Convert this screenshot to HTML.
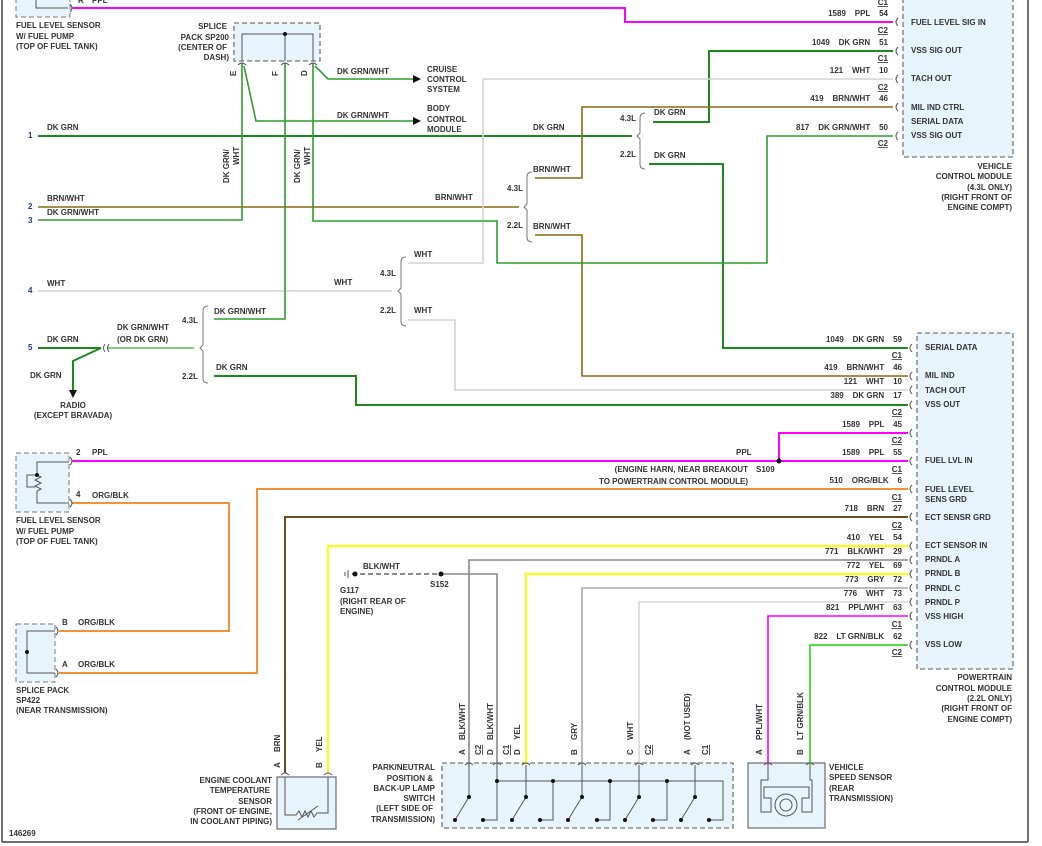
<!DOCTYPE html>
<html><head><meta charset="utf-8"><style>
html,body{margin:0;padding:0;background:#fff;}
svg{display:block;}
text{font-family:"Liberation Sans",sans-serif;font-size:8px;font-weight:bold;fill:#333;}
.n{fill:#1a3a8a;}
.u{text-decoration:underline;}
</style></head><body>
<svg width="1042" height="846" viewBox="0 0 1042 846" xmlns="http://www.w3.org/2000/svg">
<rect x="0" y="0" width="1042" height="846" fill="#fff"/>
<!-- frame -->
<line x1="2" y1="0" x2="2" y2="842" stroke="#444" stroke-width="1.5"/>
<line x1="1028" y1="0" x2="1028" y2="842" stroke="#444" stroke-width="1.5"/>
<line x1="2" y1="842" x2="1028" y2="842" stroke="#444" stroke-width="1.5"/>

<!-- boxes -->
<rect x="16" y="-5" width="54" height="22" fill="#e8f4fb" stroke="#777" stroke-dasharray="5,3"/>
<path d="M36,-2 V8 H68" fill="none" stroke="#555"/>
<rect x="234" y="23" width="86" height="38" fill="#e8f4fb" stroke="#777" stroke-dasharray="5,3" stroke-width="1.3"/>
<path d="M242,61 V34 H313 V61 M285,34 V61" fill="none" stroke="#555"/>
<circle cx="285" cy="34" r="2" fill="#111"/>
<rect x="903" y="-5" width="110" height="162" fill="#e8f4fb" stroke="#777" stroke-dasharray="5,3" stroke-width="1.3"/>
<rect x="917" y="333" width="96" height="336" fill="#e8f4fb" stroke="#777" stroke-dasharray="5,3" stroke-width="1.3"/>
<rect x="16" y="453" width="53" height="59" fill="#e8f4fb" stroke="#777" stroke-dasharray="5,3"/>
<path d="M69,462 H37 V475 M37,475 l4,2 -6,3 6,3 -6,3 6,3 -4,2 V503 H69 M37,475 H27 V487 H35" fill="none" stroke="#555"/>
<circle cx="37" cy="475" r="2" fill="#111"/>
<rect x="16" y="624" width="39" height="58" fill="#e8f4fb" stroke="#777" stroke-dasharray="5,3"/>
<path d="M55,631 H27 V673 H55" fill="none" stroke="#555"/>
<circle cx="27" cy="652" r="2" fill="#111"/>
<rect x="277" y="777" width="59" height="52" fill="#e8f4fb" stroke="#777" stroke-width="1.3"/>
<path d="M285,777 V815 H296 l3,-4 3,6 3,-6 3,6 3,-6 3,6 3,-4 H328 V777 M298,820 L318,806" fill="none" stroke="#555"/>
<rect x="442" y="763" width="291" height="65" fill="#e8f4fb" stroke="#777" stroke-dasharray="5,3" stroke-width="1.3"/>
<g stroke="#555" fill="none">
<path d="M497,765 V820 H483 M497,781 H723 V820 H709 M553,781 V820 H540 M610,781 V820 H597 M667,781 V820 H653"/>
<path d="M469,765 V797 L455,820 M526,765 V797 L512,820 M582,765 V797 L568,820 M639,765 V797 L625,820 M695,765 V797 L681,820"/>
</g>
<g fill="#111">
<circle cx="497" cy="781" r="2"/><circle cx="553" cy="781" r="2"/><circle cx="610" cy="781" r="2"/><circle cx="667" cy="781" r="2"/>
<circle cx="469" cy="797" r="2"/><circle cx="526" cy="797" r="2"/><circle cx="582" cy="797" r="2"/><circle cx="639" cy="797" r="2"/><circle cx="695" cy="797" r="2"/>
<circle cx="455" cy="820" r="2"/><circle cx="512" cy="820" r="2"/><circle cx="568" cy="820" r="2"/><circle cx="625" cy="820" r="2"/><circle cx="681" cy="820" r="2"/>
<circle cx="483" cy="820" r="2"/><circle cx="540" cy="820" r="2"/><circle cx="597" cy="820" r="2"/><circle cx="653" cy="820" r="2"/><circle cx="709" cy="820" r="2"/>
</g>
<rect x="748" y="763" width="77" height="65" fill="#e8f4fb" stroke="#777" stroke-width="1.3"/>
<path d="M768,765 V780 H761 V812 H771 V798 H764 V787 H809 V798 H802 V812 H812 V780 H810 V765" fill="none" stroke="#555"/>
<circle cx="786" cy="805" r="11" fill="none" stroke="#555"/><circle cx="786" cy="805" r="6" fill="none" stroke="#555"/>

<!-- wires -->
<g fill="none" stroke-linejoin="miter">
<path d="M72,8 H625 V22 H893" stroke="#ff00ff" stroke-width="2"/>
<path d="M38,136 H632" stroke="#1a8a1a" stroke-width="2"/>
<path d="M653,122 H709 V51 H893" stroke="#1a8a1a" stroke-width="2"/>
<path d="M649,164 H723 V348 H908" stroke="#1a8a1a" stroke-width="2"/>
<path d="M38,207 H519" stroke="#8b6914" stroke-width="1.6"/>
<path d="M535,178 H582 V107 H893" stroke="#8b6914" stroke-width="1.6"/>
<path d="M535,235 H582 V376 H908" stroke="#8b6914" stroke-width="1.6"/>
<path d="M38,291 H392" stroke="#d4d4d4" stroke-width="1.6"/>
<path d="M408,263 H483 V79 H893" stroke="#d4d4d4" stroke-width="1.6"/>
<path d="M408,320 H455 V390 H908" stroke="#d4d4d4" stroke-width="1.6"/>
<path d="M242,63 V220 H38" stroke="#2e9e2e" stroke-width="1.6"/>
<path d="M244,66 L256,121 H413" stroke="#2e9e2e" stroke-width="1.6"/>
<path d="M315,66 L328,79 H413" stroke="#2e9e2e" stroke-width="1.6"/>
<path d="M313,63 V221 H497 V263 H767 V136 H893" stroke="#2e9e2e" stroke-width="1.6"/>
<path d="M285,63 V319 H214" stroke="#2e9e2e" stroke-width="1.6"/>
<path d="M38,348 H101 L73,361 V390" stroke="#1a8a1a" stroke-width="2"/>
<path d="M107,348 H194" stroke="#5cb85c" stroke-width="1.6"/>
<path d="M214,376 H356 V405 H908" stroke="#1a8a1a" stroke-width="2"/>
<path d="M72,461 H908" stroke="#ff00ff" stroke-width="2"/>
<path d="M779,461 V433 H908" stroke="#ff00ff" stroke-width="2"/>
<path d="M72,503 H229 V631 H59" stroke="#f39237" stroke-width="2"/>
<path d="M59,673 H257 V489 H908" stroke="#f39237" stroke-width="2"/>
<path d="M285,773 V517 H908" stroke="#6b4c1e" stroke-width="2"/>
<path d="M328,773 V546 H908" stroke="#ffff00" stroke-width="2"/>
<path d="M469,765 V560 H908" stroke="#888" stroke-width="1.6"/>
<path d="M441,574 H497 V765" stroke="#888" stroke-width="1.6"/>
<path d="M352,574 H441" stroke="#666" stroke-width="1.4" stroke-dasharray="5,3"/>
<path d="M526,765 V574 H908" stroke="#ffff00" stroke-width="2"/>
<path d="M582,765 V588 H908" stroke="#aaa" stroke-width="1.6"/>
<path d="M639,765 V602 H908" stroke="#d8d8d8" stroke-width="1.6"/>
<path d="M768,765 V616 H908" stroke="#ff00ff" stroke-width="1.6"/>
<path d="M810,765 V645 H908" stroke="#55dd44" stroke-width="2"/>
<!-- brackets -->
<g stroke="#777" stroke-width="1">
<path d="M645,113 Q640,113 640,118 V133 L637,136 L640,139 V164 Q640,169 645,169"/>
<path d="M532,172 Q527,172 527,177 V204 L524,207 L527,210 V237 Q527,242 532,242"/>
<path d="M406,257 Q401,257 401,262 V288 L398,291 L401,294 V321 Q401,326 406,326"/>
<path d="M208,306 Q203,306 203,311 V345 L200,348 L203,351 V378 Q203,383 208,383"/>
</g>
<!-- connector marks -->
<g stroke="#555" stroke-width="1">
<path d="M898,18 q-4,4 0,8 M898,47 q-4,4 0,8 M898,75 q-4,4 0,8 M898,103 q-4,4 0,8 M898,132 q-4,4 0,8"/>
<path d="M912,344 q-4,4 0,8 M912,372 q-4,4 0,8 M912,386 q-4,4 0,8 M912,401 q-4,4 0,8 M912,429 q-4,4 0,8 M912,457 q-4,4 0,8 M912,485 q-4,4 0,8 M912,513 q-4,4 0,8 M912,542 q-4,4 0,8 M912,556 q-4,4 0,8 M912,570 q-4,4 0,8 M912,584 q-4,4 0,8 M912,598 q-4,4 0,8 M912,612 q-4,4 0,8 M912,641 q-4,4 0,8"/>
<path d="M70,4 q4,4 0,8 M70,457 q4,4 0,8 M70,499 q4,4 0,8 M56,627 q4,4 0,8 M56,669 q4,4 0,8"/>
<path d="M238,65 q4,-4 8,0 M281,65 q4,-4 8,0 M309,65 q4,-4 8,0"/>
<path d="M281,775 q4,-4 8,0 M324,775 q4,-4 8,0 M465,765 q4,-4 8,0 M493,765 q4,-4 8,0 M522,765 q4,-4 8,0 M578,765 q4,-4 8,0 M635,765 q4,-4 8,0 M691,765 q4,-4 8,0 M764,765 q4,-4 8,0 M806,765 q4,-4 8,0"/>
<path d="M105,344 q-3,4 0,8 M109,344 q-3,4 0,8"/>
<path d="M348,570 V578 M345,572 V576"/>
</g>
</g>
<g fill="#111">
<polygon points="413,75 421,79 413,83"/>
<polygon points="413,117 421,121 413,125"/>
<polygon points="69,390 77,390 73,398"/>
<circle cx="779" cy="461" r="2.5"/>
<circle cx="441" cy="574" r="2.5"/>
<circle cx="355" cy="574" r="2.5"/>
</g>

<!-- left labels -->
<text x="16" y="28">FUEL LEVEL SENSOR</text>
<text x="16" y="39">W/ FUEL PUMP</text>
<text x="16" y="49">(TOP OF FUEL TANK)</text>
<text x="78" y="3">R</text><text x="92" y="3">PPL</text>
<text x="227" y="29" text-anchor="end">SPLICE</text>
<text x="229" y="40" text-anchor="end">PACK SP200</text>
<text x="227" y="50" text-anchor="end">(CENTER OF</text>
<text x="229" y="60" text-anchor="end">DASH)</text>
<text transform="translate(236,76) rotate(-90)">E</text>
<text transform="translate(278,76) rotate(-90)">F</text>
<text transform="translate(307,76) rotate(-90)">D</text>
<text x="337" y="74">DK GRN/WHT</text>
<text x="337" y="118">DK GRN/WHT</text>
<text x="427" y="72">CRUISE</text><text x="427" y="82">CONTROL</text><text x="427" y="92">SYSTEM</text>
<text x="427" y="111">BODY</text><text x="427" y="122">CONTROL</text><text x="427" y="132">MODULE</text>
<text transform="translate(229,183) rotate(-90)">DK GRN/</text>
<text transform="translate(239,165) rotate(-90)">WHT</text>
<text transform="translate(300,183) rotate(-90)">DK GRN/</text>
<text transform="translate(310,165) rotate(-90)">WHT</text>
<text class="n" x="28" y="138">1</text><text x="47" y="130">DK GRN</text>
<text class="n" x="28" y="209">2</text><text x="47" y="201">BRN/WHT</text>
<text class="n" x="28" y="223">3</text><text x="47" y="215">DK GRN/WHT</text>
<text class="n" x="28" y="293">4</text><text x="47" y="286">WHT</text>
<text class="n" x="28" y="350">5</text><text x="47" y="342">DK GRN</text>
<text x="533" y="130">DK GRN</text>
<text x="435" y="200">BRN/WHT</text>
<text x="334" y="285">WHT</text>
<text x="620" y="121">4.3L</text><text x="620" y="157">2.2L</text>
<text x="654" y="115">DK GRN</text><text x="654" y="158">DK GRN</text>
<text x="507" y="191">4.3L</text><text x="507" y="228">2.2L</text>
<text x="533" y="172">BRN/WHT</text><text x="533" y="229">BRN/WHT</text>
<text x="380" y="276">4.3L</text><text x="380" y="313">2.2L</text>
<text x="414" y="257">WHT</text><text x="414" y="313">WHT</text>
<text x="182" y="323">4.3L</text><text x="182" y="379">2.2L</text>
<text x="214" y="314">DK GRN/WHT</text>
<text x="117" y="330">DK GRN/WHT</text><text x="117" y="342">(OR DK GRN)</text>
<text x="216" y="370">DK GRN</text>
<text x="30" y="378">DK GRN</text>
<text x="73" y="408" text-anchor="middle">RADIO</text>
<text x="73" y="418" text-anchor="middle">(EXCEPT BRAVADA)</text>

<!-- VCM -->
<g text-anchor="end">
<text x="888" y="5" class="u">C1</text>
<text x="888" y="16" xml:space="preserve">1589    PPL    54</text>
<text x="888" y="33" class="u">C2</text>
<text x="888" y="45" xml:space="preserve">1049    DK GRN    51</text>
<text x="888" y="61" class="u">C1</text>
<text x="888" y="73" xml:space="preserve">121    WHT    10</text>
<text x="888" y="90" class="u">C2</text>
<text x="888" y="101" xml:space="preserve">419    BRN/WHT    46</text>
<text x="888" y="130" xml:space="preserve">817    DK GRN/WHT    50</text>
<text x="888" y="146" class="u">C2</text>
<text x="1012" y="169">VEHICLE</text>
<text x="1012" y="179">CONTROL MODULE</text>
<text x="1012" y="190">(4.3L ONLY)</text>
<text x="1012" y="200">(RIGHT FRONT OF</text>
<text x="1012" y="210">ENGINE COMPT)</text>
</g>
<text x="911" y="25">FUEL LEVEL SIG IN</text>
<text x="911" y="53">VSS SIG OUT</text>
<text x="911" y="81">TACH OUT</text>
<text x="911" y="110">MIL IND CTRL</text>
<text x="911" y="124">SERIAL DATA</text>
<text x="911" y="138">VSS SIG OUT</text>

<!-- PCM -->
<g text-anchor="end">
<text x="902" y="342" xml:space="preserve">1049    DK GRN    59</text>
<text x="902" y="358" class="u">C1</text>
<text x="902" y="370" xml:space="preserve">419    BRN/WHT    46</text>
<text x="902" y="384" xml:space="preserve">121    WHT    10</text>
<text x="902" y="398" xml:space="preserve">389    DK GRN    17</text>
<text x="902" y="415" class="u">C2</text>
<text x="902" y="427" xml:space="preserve">1589    PPL    45</text>
<text x="902" y="443" class="u">C2</text>
<text x="902" y="455" xml:space="preserve">1589    PPL    55</text>
<text x="902" y="472" class="u">C1</text>
<text x="902" y="483" xml:space="preserve">510    ORG/BLK    6</text>
<text x="902" y="500" class="u">C1</text>
<text x="902" y="511" xml:space="preserve">718    BRN    27</text>
<text x="902" y="528" class="u">C2</text>
<text x="902" y="540" xml:space="preserve">410    YEL    54</text>
<text x="902" y="554" xml:space="preserve">771    BLK/WHT    29</text>
<text x="902" y="568" xml:space="preserve">772    YEL    69</text>
<text x="902" y="582" xml:space="preserve">773    GRY    72</text>
<text x="902" y="596" xml:space="preserve">776    WHT    73</text>
<text x="902" y="610" xml:space="preserve">821    PPL/WHT    63</text>
<text x="902" y="627" class="u">C1</text>
<text x="902" y="639" xml:space="preserve">822    LT GRN/BLK    62</text>
<text x="902" y="655" class="u">C2</text>
<text x="1012" y="680">POWERTRAIN</text>
<text x="1012" y="691">CONTROL MODULE</text>
<text x="1012" y="701">(2.2L ONLY)</text>
<text x="1012" y="711">(RIGHT FRONT OF</text>
<text x="1012" y="722">ENGINE COMPT)</text>
<text x="748" y="472">(ENGINE HARN, NEAR BREAKOUT</text>
<text x="748" y="484">TO POWERTRAIN CONTROL MODULE)</text>
</g>
<text x="925" y="350">SERIAL DATA</text>
<text x="925" y="378">MIL IND</text>
<text x="925" y="393">TACH OUT</text>
<text x="925" y="407">VSS OUT</text>
<text x="925" y="463">FUEL LVL IN</text>
<text x="925" y="492">FUEL LEVEL</text>
<text x="925" y="502">SENS GRD</text>
<text x="925" y="520">ECT SENSR GRD</text>
<text x="925" y="548">ECT SENSOR IN</text>
<text x="925" y="562">PRNDL A</text>
<text x="925" y="576">PRNDL B</text>
<text x="925" y="591">PRNDL C</text>
<text x="925" y="605">PRNDL P</text>
<text x="925" y="619">VSS HIGH</text>
<text x="925" y="647">VSS LOW</text>
<text x="736" y="455">PPL</text>
<text x="756" y="472">S109</text>

<!-- lower left -->
<text x="76" y="455">2</text><text x="92" y="455">PPL</text>
<text x="76" y="497">4</text><text x="92" y="498">ORG/BLK</text>
<text x="16" y="523">FUEL LEVEL SENSOR</text>
<text x="16" y="534">W/ FUEL PUMP</text>
<text x="16" y="544">(TOP OF FUEL TANK)</text>
<text x="62" y="625">B</text><text x="78" y="625">ORG/BLK</text>
<text x="62" y="667">A</text><text x="78" y="667">ORG/BLK</text>
<text x="16" y="693">SPLICE PACK</text>
<text x="16" y="703">SP422</text>
<text x="16" y="713">(NEAR TRANSMISSION)</text>
<text x="363" y="569">BLK/WHT</text>
<text x="340" y="593">G117</text>
<text x="340" y="604">(RIGHT REAR OF</text>
<text x="340" y="614">ENGINE)</text>
<text x="430" y="587">S152</text>
<g text-anchor="end">
<text x="272" y="783">ENGINE COOLANT</text>
<text x="270" y="793">TEMPERATURE</text>
<text x="272" y="804">SENSOR</text>
<text x="272" y="814">(FRONT OF ENGINE,</text>
<text x="272" y="824">IN COOLANT PIPING)</text>
<text x="435" y="770">PARK/NEUTRAL</text>
<text x="433" y="781">POSITION &amp;</text>
<text x="435" y="791">BACK-UP LAMP</text>
<text x="435" y="801">SWITCH</text>
<text x="433" y="811">(LEFT SIDE OF</text>
<text x="435" y="822">TRANSMISSION)</text>
</g>
<text x="829" y="770">VEHICLE</text>
<text x="829" y="780">SPEED SENSOR</text>
<text x="829" y="791">(REAR</text>
<text x="829" y="801">TRANSMISSION)</text>
<text x="9" y="836">146269</text>

<!-- rotated pin labels -->
<g>
<text transform="translate(280,768) rotate(-90)">A</text>
<text transform="translate(280,752) rotate(-90)">BRN</text>
<text transform="translate(322,768) rotate(-90)">B</text>
<text transform="translate(322,752) rotate(-90)">YEL</text>
<text transform="translate(465,755) rotate(-90)">A</text>
<text transform="translate(465,740) rotate(-90)">BLK/WHT</text>
<text class="u" transform="translate(481,755) rotate(-90)">C2</text>
<text transform="translate(493,755) rotate(-90)">D</text>
<text transform="translate(493,740) rotate(-90)">BLK/WHT</text>
<text class="u" transform="translate(509,755) rotate(-90)">C1</text>
<text transform="translate(520,755) rotate(-90)">D</text>
<text transform="translate(520,740) rotate(-90)">YEL</text>
<text transform="translate(577,755) rotate(-90)">B</text>
<text transform="translate(577,740) rotate(-90)">GRY</text>
<text transform="translate(633,755) rotate(-90)">C</text>
<text transform="translate(633,740) rotate(-90)">WHT</text>
<text class="u" transform="translate(651,755) rotate(-90)">C2</text>
<text transform="translate(690,755) rotate(-90)">A</text>
<text transform="translate(690,740) rotate(-90)">(NOT USED)</text>
<text class="u" transform="translate(708,755) rotate(-90)">C1</text>
<text transform="translate(762,755) rotate(-90)">A</text>
<text transform="translate(762,740) rotate(-90)">PPL/WHT</text>
<text transform="translate(803,755) rotate(-90)">B</text>
<text transform="translate(803,740) rotate(-90)">LT GRN/BLK</text>
</g>
</svg>
</body></html>
